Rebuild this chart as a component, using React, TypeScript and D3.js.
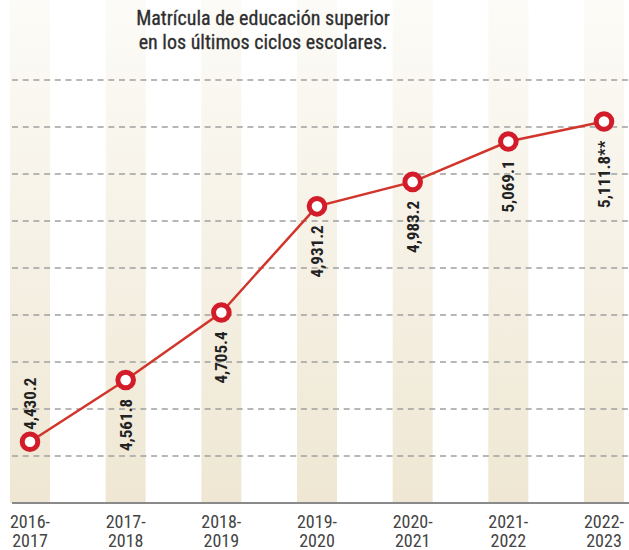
import React from 'react';
import * as d3 from 'd3';

const titleLines = ['Matrícula de educación superior', 'en los últimos ciclos escolares.'];
const cycles = [
  ['2016-', '2017'],
  ['2017-', '2018'],
  ['2018-', '2019'],
  ['2019-', '2020'],
  ['2020-', '2021'],
  ['2021-', '2022'],
  ['2022-', '2023'],
];
const enrollment = [4430.2, 4561.8, 4705.4, 4931.2, 4983.2, 5069.1, 5111.8];
const valueLabels = ['4,430.2', '4,561.8', '4,705.4', '4,931.2', '4,983.2', '5,069.1', '5,111.8**'];
const gridValues = [4400, 4500, 4600, 4700, 4800, 4900, 5000, 5100, 5200];

const W = 629;
const H = 550;
const narrow = "'Liberation Sans Narrow', 'Roboto Condensed', 'Liberation Sans', sans-serif";

const App = () => {
  const x = d3.scalePoint<number>().domain(d3.range(cycles.length)).range([30, 604]);
  const y = d3.scaleLinear().domain([4300, 5200]).range([503, 80]);
  const baseY = y(4300);

  const line = d3
    .line<number>()
    .x((d, i) => x(i) as number)
    .y((d) => y(d));

  return (
    <svg width={W} height={H} style={{ position: 'absolute', left: 0, top: 0, background: '#fff' }}>
      <defs>
        <linearGradient id="band" x1="0" y1="0" x2="0" y2="1">
          <stop offset="0" stopColor="#fcfbf7" />
          <stop offset="1" stopColor="#efe7d3" />
        </linearGradient>
      </defs>

      {/* column bands */}
      {cycles.map((c, i) => (
        <rect key={i} x={(x(i) as number) - 20} y={0} width={40} height={baseY} fill="url(#band)" />
      ))}

      {/* title */}
      {titleLines.map((t, i) => (
        <text
          key={t}
          x={263}
          y={25 + i * 24}
          textAnchor="middle"
          fontFamily={narrow}
          fontSize={20}
          fill="#2e2e2e"
          stroke="#2e2e2e"
          strokeWidth={0.3}
        >
          {t}
        </text>
      ))}

      {/* dashed grid */}
      {gridValues.map((v) => (
        <line
          key={v}
          x1={12}
          x2={W}
          y1={y(v)}
          y2={y(v)}
          stroke="#a0a0a0"
          strokeWidth={1.6}
          strokeDasharray="6 4.7"
        />
      ))}

      {/* baseline */}
      <line x1={12} x2={W} y1={baseY} y2={baseY} stroke="#8a8a8a" strokeWidth={2} />

      {/* category labels */}
      {cycles.map((c, i) => (
        <text
          key={i}
          x={x(i)}
          textAnchor="middle"
          fontFamily={narrow}
          fontSize={18}
          fill="#444"
        >
          <tspan x={x(i)} y={528}>{c[0]}</tspan>
          <tspan x={x(i)} y={547}>{c[1]}</tspan>
        </text>
      ))}

      {/* line */}
      <path d={line(enrollment) ?? ''} fill="none" stroke="#d1352b" strokeWidth={2.5} />

      {/* markers */}
      {enrollment.map((v, i) => (
        <circle key={i} cx={x(i)} cy={y(v)} r={7.8} fill="#fff" stroke="#d21c2a" strokeWidth={5} />
      ))}

      {/* value labels, rotated */}
      {enrollment.map((v, i) => {
        const px = x(i) as number;
        const py = y(v);
        const above = i === 0;
        const ly = above ? py - 12 : py + 19;
        return (
          <text
            key={i}
            transform={`translate(${px + 6},${ly}) rotate(-90)`}
            textAnchor={above ? 'start' : 'end'}
            fontFamily={narrow}
            fontWeight="bold"
            fontSize={17}
            fill="#222"
          >
            {valueLabels[i]}
          </text>
        );
      })}
    </svg>
  );
};

export default App;
